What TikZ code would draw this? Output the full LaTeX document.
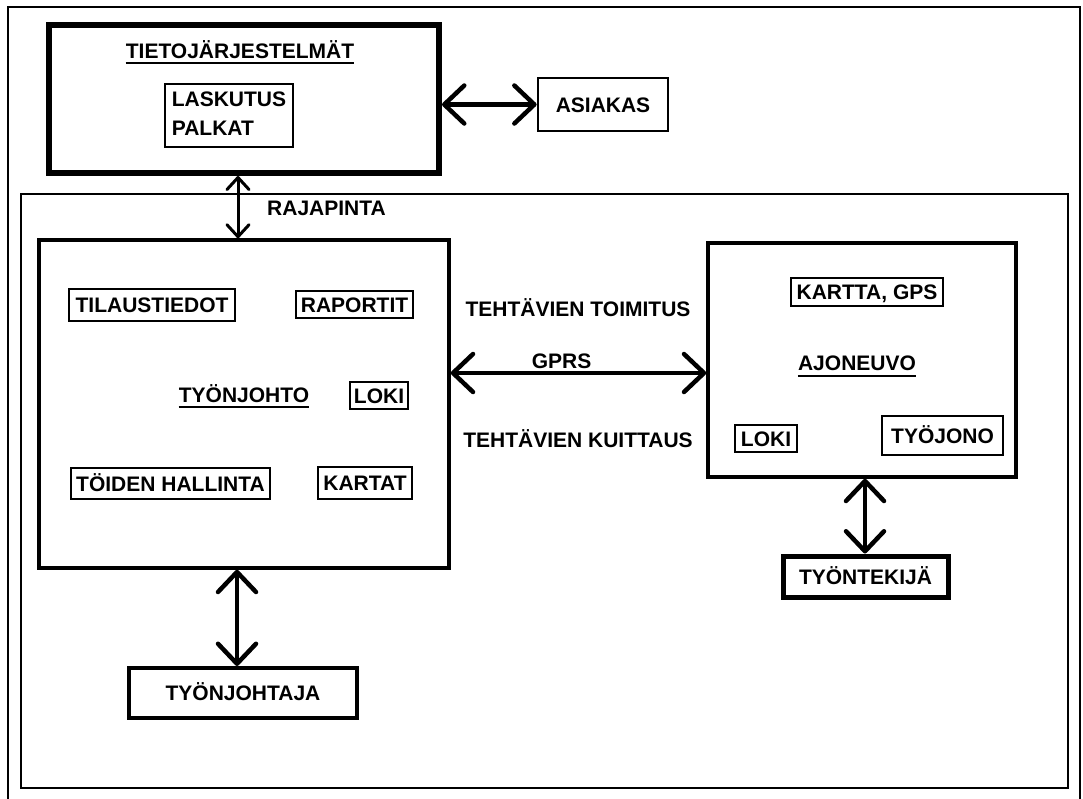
\documentclass[tikz,border=0pt]{standalone}
\usepackage{fontspec}
\setmainfont{Liberation Sans}
\usetikzlibrary{arrows.meta,calc}
\tikzset{
  bb/.tip={Straight Barb[length=20pt,width=38pt,round]},
  sb/.tip={Straight Barb[length=12pt,width=22pt,round]},
  bigarrow/.style={line width=4.5pt, bb-bb},
  thinarrow/.style={line width=3pt, sb-sb},
  box/.style={draw, line width=#1, outer sep=auto},
  box/.default=2.8pt,
  capht/.style={text height=15pt, text depth=0pt},
  tbox/.style={box=#1, capht},
  tbox/.default=2.8pt,
  sz/.style 2 args={minimum width=#1, minimum height=#2},
  lbl/.style={anchor=base},
  ulline/.style={line width=2pt}
}
\begin{document}
\begin{tikzpicture}[x=1pt,y=-1pt,
  every node/.style={font=\fontsize{21}{29}\selectfont\bfseries, inner sep=0pt}]
\useasboundingbox[fill=white] (0,0) rectangle (1083,798);
% frames
\draw[line width=2.8pt] (8,7) rectangle (1080,806);
\draw[line width=2.2pt] (21,194) rectangle (1068,788);

% information systems
\node[box=6pt, sz={390pt}{148pt}] (tieto) at (244,99) {};
\node[lbl] (tietot) at (240,58) {TIETOJÄRJESTELMÄT};
\draw[ulline] ($(tietot.base west)+(0,5)$) -- ($(tietot.base east)+(0,5)$);
\node[box, sz={128pt}{63pt}] (lask) at (229,115.5)
  {\begin{tabular}{@{}l@{}}LASKUTUS\\PALKAT\end{tabular}};
\node[tbox, sz={130pt}{53pt}] (asiakas) at (603,104.5) {ASIAKAS};
\draw[bigarrow] (asiakas.west -| tieto.east) -- (asiakas.west);

% supervision box
\node[box=3.5pt, sz={410pt}{328pt}] (left) at (244,404) {};
\coordinate (rx) at (238,0);
\draw[thinarrow] (tieto.south -| rx) -- (left.north -| rx);
\node[anchor=base west] (raja) at (267,215.5) {RAJAPINTA};

\node[tbox, sz={166pt}{32pt}] (tilaus) at (152,305) {TILAUSTIEDOT};
\node[tbox, sz={117pt}{27pt}] (raportit) at (354.5,304.5) {RAPORTIT};
\node[lbl] (tj) at (244,402) {TYÖNJOHTO};
\draw[ulline] ($(tj.base west)+(0,5)$) -- ($(tj.base east)+(0,5)$);
\node[tbox, sz={58pt}{27pt}] (loki1) at (379,395.5) {LOKI};
\node[tbox, sz={199pt}{31pt}] (toiden) at (170.5,483.5) {TÖIDEN HALLINTA};
\node[tbox, sz={94pt}{32pt}] (kartat) at (365,483) {KARTAT};

% link labels
\node[lbl] (toim) at (578,316.5) {TEHTÄVIEN TOIMITUS};
\node[lbl] (gprs) at (561.5,368) {GPRS};
\node[lbl] (kuit) at (578,447.5) {TEHTÄVIEN KUITTAUS};

% vehicle box
\node[box=3.5pt, sz={308pt}{234pt}] (right) at (862,360) {};
\coordinate (gy) at (0,373);
\draw[bigarrow] (left.east |- gy) -- (right.west |- gy);
\node[tbox, sz={152pt}{28pt}] (kartta) at (867,292) {KARTTA, GPS};
\node[lbl] (ajo) at (857,370) {AJONEUVO};
\draw[ulline] ($(ajo.base west)+(0,6)$) -- ($(ajo.base east)+(0,6)$);
\node[tbox, sz={62pt}{27pt}] (loki2) at (766,438.5) {LOKI};
\node[tbox, sz={121pt}{39pt}] (tyojono) at (942.5,435.5) {TYÖJONO};

% worker
\node[tbox=5pt, sz={165pt}{41pt}] (worker) at (865.5,576.5) {TYÖNTEKIJÄ};
\coordinate (wx) at (865,0);
\draw[bigarrow] (right.south -| wx) -- (worker.north -| wx);

% supervisor
\node[tbox=4pt, sz={228pt}{50pt}] (boss) at (243,693) {TYÖNJOHTAJA};
\coordinate (bx) at (237,0);
\draw[bigarrow] (left.south -| bx) -- (boss.north -| bx);
\end{tikzpicture}
\end{document}
